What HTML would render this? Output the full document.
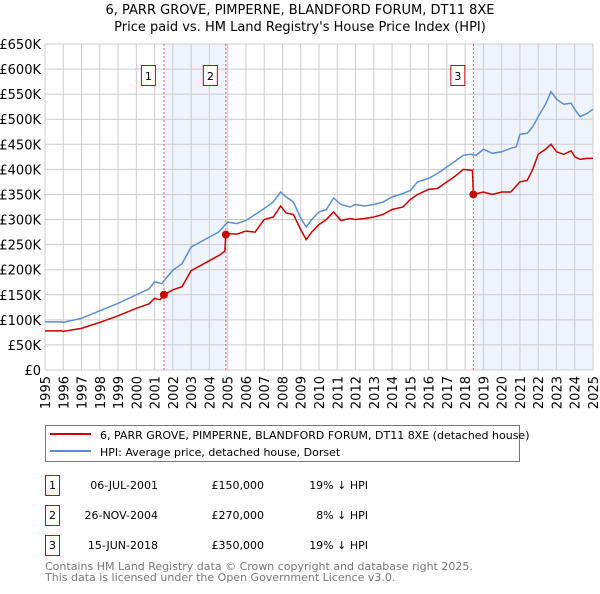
<!DOCTYPE html>
<html><head><meta charset="utf-8"><style>
body{margin:0;background:#fff;font-family:"DejaVu Sans","Liberation Sans",sans-serif;}
svg text{font-family:"DejaVu Sans","Liberation Sans",sans-serif;}
</style></head><body>
<svg id="c" width="600" height="590" xmlns="http://www.w3.org/2000/svg">
<text x="300" y="14" font-size="13" text-anchor="middle">6, PARR GROVE, PIMPERNE, BLANDFORD FORUM, DT11 8XE</text>
<text x="300" y="31" font-size="13" text-anchor="middle">Price paid vs. HM Land Registry's House Price Index (HPI)</text>
<g id="plot"></g>
<rect x="45.5" y="425.5" width="474" height="36" fill="#fff" stroke="#777"/>
<line x1="50" y1="434" x2="91" y2="434" stroke="#cc0000" stroke-width="2"/>
<text x="100" y="439" font-size="11">6, PARR GROVE, PIMPERNE, BLANDFORD FORUM, DT11 8XE (detached house)</text>
<line x1="50" y1="451" x2="91" y2="451" stroke="#5b8fd0" stroke-width="2"/>
<text x="100" y="456" font-size="11">HPI: Average price, detached house, Dorset</text>
<g font-size="11">
<rect x="45.5" y="475.5" width="14" height="20" fill="none" stroke="#cc0000"/><text x="52.5" y="489" text-anchor="middle">1</text>
<text x="158" y="489" text-anchor="end">06-JUL-2001</text><text x="264" y="489" text-anchor="end">£150,000</text><text x="368" y="489" text-anchor="end">19% ↓ HPI</text>
<rect x="45.5" y="505.5" width="14" height="20" fill="none" stroke="#cc0000"/><text x="52.5" y="519" text-anchor="middle">2</text>
<text x="158" y="519" text-anchor="end">26-NOV-2004</text><text x="264" y="519" text-anchor="end">£270,000</text><text x="368" y="519" text-anchor="end">8% ↓ HPI</text>
<rect x="45.5" y="535.5" width="14" height="20" fill="none" stroke="#cc0000"/><text x="52.5" y="549" text-anchor="middle">3</text>
<text x="158" y="549" text-anchor="end">15-JUN-2018</text><text x="264" y="549" text-anchor="end">£350,000</text><text x="368" y="549" text-anchor="end">19% ↓ HPI</text>
</g>
<text x="45" y="570" font-size="11" fill="#777">Contains HM Land Registry data © Crown copyright and database right 2025.</text>
<text x="45" y="581" font-size="11" fill="#777">This data is licensed under the Open Government Licence v3.0.</text>
</svg>
<script>
const yTicks=[0,50,100,150,200,250,300,350,400,450,500,550,600,650];
const years=[1995,1996,1997,1998,1999,2000,2001,2002,2003,2004,2005,2006,2007,2008,2009,2010,2011,2012,2013,2014,2015,2016,2017,2018,2019,2020,2021,2022,2023,2024,2025];
const hpiX=[1995,1995.9,1996,1997,1998,1999,2000,2000.7,2001,2001.4,2001.6,2002,2002.5,2003,2004,2004.5,2005,2005.5,2006,2006.5,2007,2007.5,2007.9,2008.2,2008.6,2009,2009.3,2009.6,2010,2010.4,2010.8,2011.2,2011.7,2012,2012.5,2013,2013.5,2014,2014.6,2015,2015.4,2016,2016.5,2017,2017.4,2017.9,2018.3,2018.6,2019,2019.5,2020,2020.5,2020.8,2021,2021.4,2021.7,2022,2022.4,2022.7,2023,2023.4,2023.8,2024,2024.3,2024.7,2025];
const hpiV=[96,96,95,103,118,133,150,162,176,172,182,199,212,245,265,275,295,292,298,310,322,335,355,345,335,303,285,300,315,320,343,330,325,330,327,330,335,345,352,358,375,382,392,405,415,428,430,428,440,432,435,442,445,470,472,485,505,530,555,540,530,532,520,505,512,520];
const ppX=[1995,1995.9,1996,1997,1998,1999,2000,2000.7,2001,2001.3,2001.51,2002,2002.5,2003,2004,2004.6,2004.85,2004.9,2005,2005.5,2006,2006.5,2007,2007.5,2007.9,2008.2,2008.6,2009,2009.3,2009.6,2010,2010.4,2010.8,2011.2,2011.7,2012,2012.5,2013,2013.5,2014,2014.6,2015,2015.4,2016,2016.5,2017,2017.4,2017.9,2018.4,2018.45,2019,2019.5,2020,2020.5,2021,2021.4,2021.7,2022,2022.4,2022.7,2023,2023.4,2023.8,2024,2024.3,2024.7,2025];
const ppV=[78,78,77,83,95,108,123,132,143,140,150,160,166,198,218,230,237,270,272,271,277,275,300,305,327,313,310,280,260,275,290,300,315,298,302,300,302,305,310,320,325,340,350,360,362,375,385,400,398,350,355,350,355,355,375,378,400,430,440,450,435,430,437,425,420,422,422];
const sales=[{n:"1",t:2001.51,v:150},{n:"2",t:2004.9,v:270},{n:"3",t:2018.45,v:350}];
const shade=[[2001.51,2004.9],[2018.45,2025]];
const L=45,R=593,T=44,B=370;
const X=t=>L+(t-1995)/30*(R-L);
const Y=v=>B-v/650*(B-T);
const g=document.getElementById('plot');
const NS="http://www.w3.org/2000/svg";
function mk(tag,at){const e=document.createElementNS(NS,tag);for(const k in at)e.setAttribute(k,at[k]);g.appendChild(e);return e;}
shade.forEach(s=>{const e=mk('rect',{x:X(s[0]),y:T,width:X(s[1])-X(s[0]),height:B-T,fill:'#eef3fc'});

});
yTicks.forEach(v=>{const l=mk('line',{x1:L,x2:R,y1:Y(v),y2:Y(v),stroke:'#ccc'});


const t=mk('text',{x:41,y:Y(v)+5,'font-size':13,'text-anchor':'end'});t.textContent=v===0?'£0':'£'+v+'K';

});
years.forEach(y=>{const l=mk('line',{x1:X(y),x2:X(y),y1:T,y2:B,stroke:'#ccc'});


const t=mk('text',{transform:`translate(${X(y)+5},${B+6}) rotate(-90)`,'font-size':13,'text-anchor':'end'});t.textContent=y;

});
sales.forEach(s=>{const l=mk('line',{x1:X(s.t),x2:X(s.t),y1:T,y2:B,stroke:'#e06060','stroke-dasharray':'2,2'});


const r=mk('rect',{x:X(s.t)-22.5,y:65.5,width:14,height:20,fill:'#fff',stroke:'#cc0000'});


const t=mk('text',{x:X(s.t)-15.5,y:80,'font-size':11,'text-anchor':'middle'});t.textContent=s.n;

});
const path=(xs,vs)=>xs.map((x,i)=>(i?'L':'M')+X(x).toFixed(1)+','+Y(vs[i]).toFixed(1)).join('');
const h=mk('path',{d:path(hpiX,hpiV),fill:'none',stroke:'#5b8fd0','stroke-width':1.5});


const p=mk('path',{d:path(ppX,ppV),fill:'none',stroke:'#cc0000','stroke-width':1.5});


sales.forEach(s=>{const c=mk('circle',{cx:X(s.t),cy:Y(s.v),r:4,fill:'#cc0000'});

});
</script>
</body></html>
